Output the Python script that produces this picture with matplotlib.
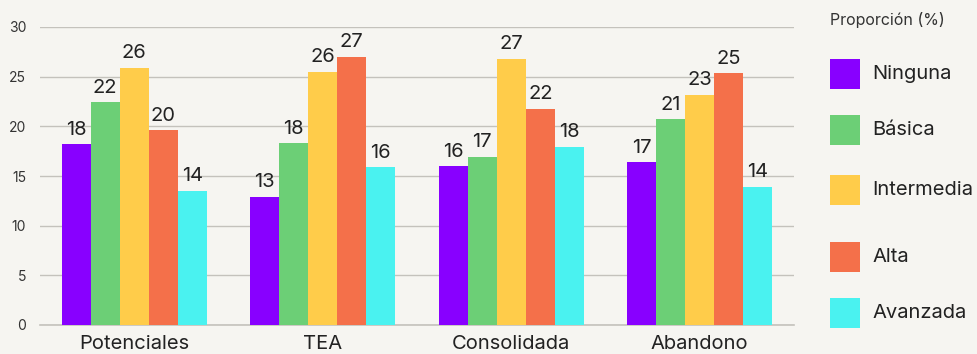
import matplotlib
matplotlib.use("Agg")
import matplotlib.pyplot as plt
import numpy as np
from matplotlib.patches import Rectangle

categories = ["Potenciales", "TEA", "Consolidada", "Abandono"]
series_names = ["Ninguna", "Básica", "Intermedia", "Alta", "Avanzada"]
ninguna = [18.2, 12.9, 16.0, 16.4]
basica = [22.4, 18.3, 16.95, 20.7]
intermedia = [25.9, 25.5, 26.8, 23.2]
alta = [19.6, 27.0, 21.75, 25.35]
avanzada = [13.5, 15.9, 17.96, 13.9]
labels_ninguna = ["18", "13", "16", "17"]
labels_basica = ["22", "18", "17", "21"]
labels_intermedia = ["26", "26", "27", "23"]
labels_alta = ["20", "27", "22", "25"]
labels_avanzada = ["14", "16", "18", "14"]
yticks = [0, 5, 10, 15, 20, 25, 30]
legend_title = "Proporción (%)"

series = [ninguna, basica, intermedia, alta, avanzada]
series_labels = [labels_ninguna, labels_basica, labels_intermedia, labels_alta, labels_avanzada]
colors = ["#8800ff", "#6ccf76", "#ffcc4a", "#f4704a", "#4af2f0"]

bg = "#f6f5f1"
plt.rcParams['font.family'] = ['Inter', 'DejaVu Sans']

W, H = 977, 354
fig = plt.figure(figsize=(W / 100, H / 100), dpi=100, facecolor=bg)
ax = fig.add_axes([40 / W, 1 - 325 / H, (794 - 40) / W, (325 - 27) / H])
ax.set_facecolor(bg)

x = np.arange(len(categories))
group_w = 0.77
bw = group_w / len(series)
for i, (vals, labs, c) in enumerate(zip(series, series_labels, colors)):
    pos = x - group_w / 2 + bw * (i + 0.5)
    bars = ax.bar(pos, vals, width=bw, color=c, zorder=3, linewidth=0)
    for b, lab in zip(bars, labs):
        ax.annotate(lab, (b.get_x() + b.get_width() / 2, b.get_height()),
                    xytext=(0, 4), textcoords="offset points",
                    ha="center", va="bottom", fontsize=14.5, color="#222222",
                    annotation_clip=False, zorder=4)

ax.set_xlim(-0.5, len(categories) - 0.5)
ax.set_ylim(0, 30)
ax.set_yticks(yticks)
ax.set_yticklabels([str(t) for t in yticks], fontsize=10, color="#333333")
ax.set_xticks(x)
ax.set_xticklabels(categories, fontsize=14.5, color="#222222")
ax.tick_params(axis="y", length=0, pad=10)
ax.tick_params(axis="x", length=0, pad=7)
ax.grid(axis="y", color="#c4c2bc", linewidth=1, zorder=0)
for s in ["top", "right", "left"]:
    ax.spines[s].set_visible(False)
ax.spines["bottom"].set_color("#c4c2bc")
ax.spines["bottom"].set_linewidth(1.2)

# legend (manual layout)
fig.text(830 / W, 1 - 20 / H, legend_title, fontsize=11.5, color="#333333", va="center", ha="left")
ys = [74, 130, 190, 257, 313]
for name, c, yc in zip(series_names, colors, ys):
    fig.add_artist(Rectangle((830 / W, 1 - (yc + 15) / H), 30 / W, 30 / H,
                             transform=fig.transFigure, facecolor=c, edgecolor="none"))
    fig.text(872 / W, 1 - yc / H, name, fontsize=14.5, color="#222222", va="center", ha="left")

fig.savefig("out.png", dpi=100, facecolor=bg)
